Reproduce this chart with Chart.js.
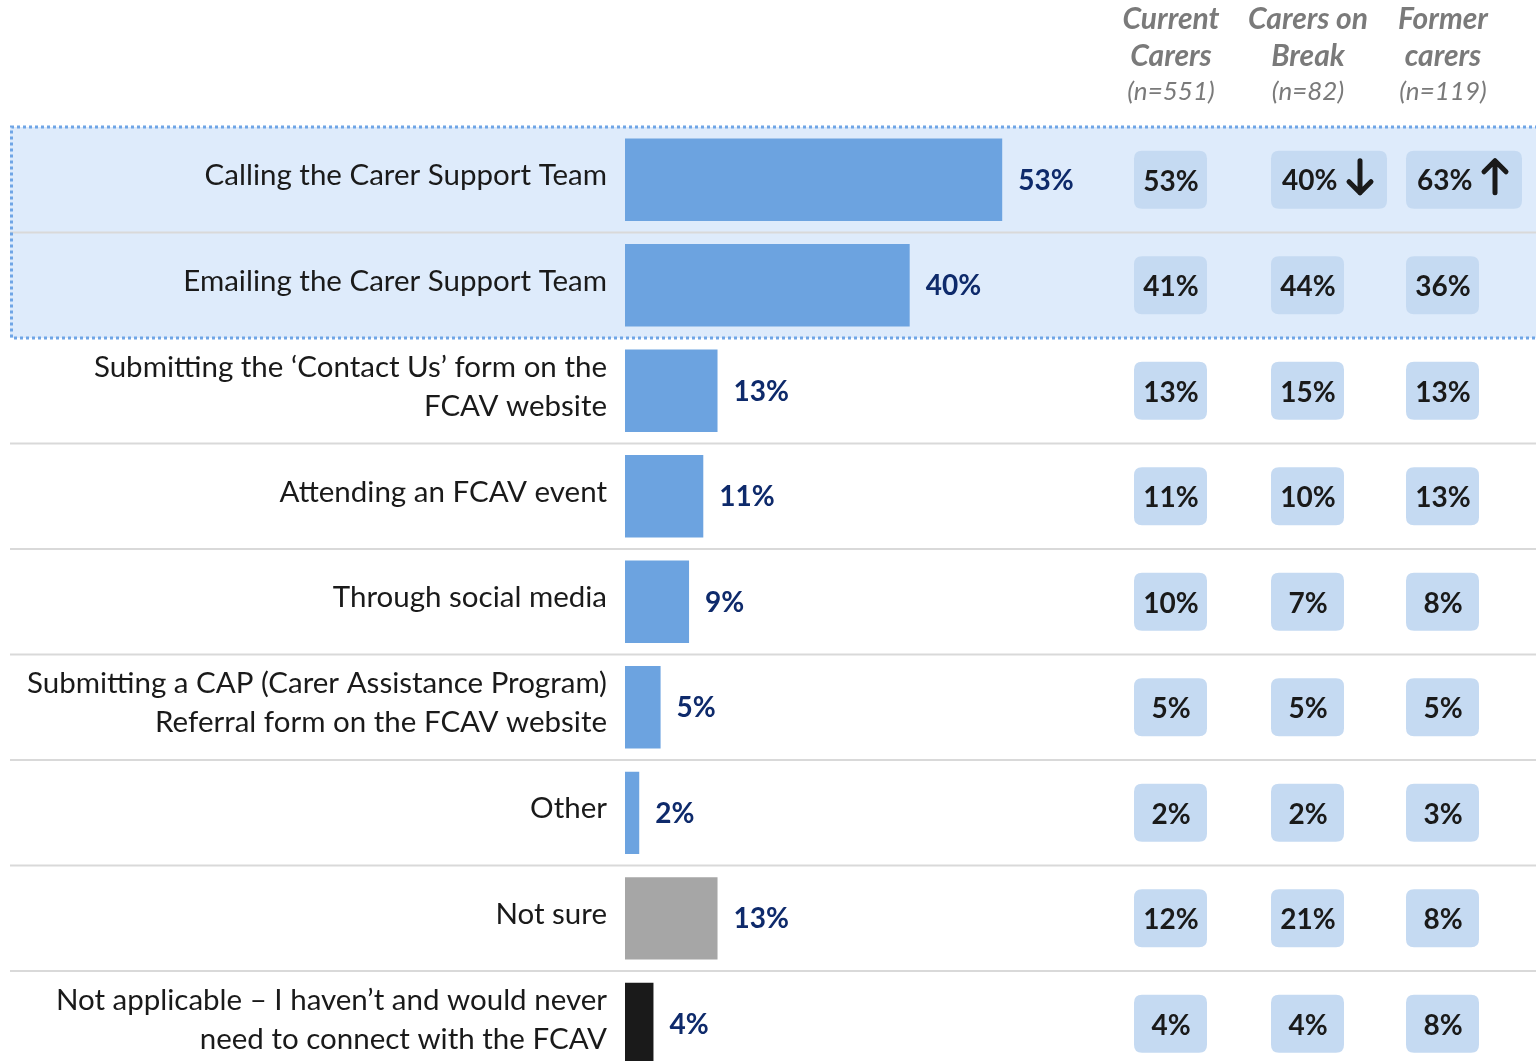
<!DOCTYPE html>
<html>
<head>
<meta charset="UTF-8">
<title>Ways of connecting with the FCAV</title>
<script src="https://cdn.jsdelivr.net/npm/chart.js"></script>
<style>
    html, body {
        margin: 0;
        padding: 0;
        background: #ffffff;
        overflow: hidden;
    }
    .chart-container {
        position: relative;
        width: 1536px;
        height: 1106px;
    }
</style>
</head>
<body>
<div class="chart-container">
    <canvas id="contactChart"></canvas>
</div>

<script>
    const categories = [
        'Calling the Carer Support Team',
        'Emailing the Carer Support Team',
        ['Submitting the \u2018Contact Us\u2019 form on the', 'FCAV website'],
        'Attending an FCAV event',
        'Through social media',
        ['Submitting a CAP (Carer Assistance Program)', 'Referral form on the FCAV website'],
        'Other',
        'Not sure',
        ['Not applicable \u2013 I haven\u2019t and would never', 'need to connect with the FCAV']
    ];
    const totalValues = [53, 40, 13, 11, 9, 5, 2, 13, 4];

    const groupHeaders = [['Current', 'Carers'], ['Carers on', 'Break'], ['Former', 'carers']];
    const groupSizes = [551, 82, 119];
    const currentCarers = [53, 41, 13, 11, 10, 5, 2, 12, 4];
    const carersOnBreak = [40, 44, 15, 10, 7, 5, 2, 21, 4];
    const formerCarers = [63, 36, 13, 13, 8, 5, 3, 8, 8];
    // significant differences vs. total
    const breakSignificance = ['down', null, null, null, null, null, null, null, null];
    const formerSignificance = ['up', null, null, null, null, null, null, null, null];

    const highlightedRows = [0, 1];

    const FONT = 'Lato, "Open Sans", sans-serif';
    const columnCentres = [1171, 1308, 1443];
    const groupValues = [currentCarers, carersOnBreak, formerCarers];
    const groupFlags = [null, breakSignificance, formerSignificance];

    function barColour(label) {
        if (label === 'Not sure') return '#a6a6a6';
        if (Array.isArray(label) && label[0].startsWith('Not applicable')) return '#1a1a1a';
        return '#6ca3e0';
    }

    function roundRect(ctx, x, y, w, h, r) {
        ctx.beginPath();
        ctx.moveTo(x + r, y);
        ctx.lineTo(x + w - r, y);
        ctx.quadraticCurveTo(x + w, y, x + w, y + r);
        ctx.lineTo(x + w, y + h - r);
        ctx.quadraticCurveTo(x + w, y + h, x + w - r, y + h);
        ctx.lineTo(x + r, y + h);
        ctx.quadraticCurveTo(x, y + h, x, y + h - r);
        ctx.lineTo(x, y + r);
        ctx.quadraticCurveTo(x, y, x + r, y);
        ctx.closePath();
    }

    function drawArrow(ctx, x, yc, dir) {
        const half = 16;
        ctx.save();
        ctx.strokeStyle = '#1a1a1a';
        ctx.lineWidth = 5;
        ctx.lineCap = 'round';
        ctx.lineJoin = 'round';
        ctx.beginPath();
        const tip = dir === 'down' ? yc + half : yc - half;
        const tail = dir === 'down' ? yc - half : yc + half;
        const wing = dir === 'down' ? -11 : 11;
        ctx.moveTo(x, tail);
        ctx.lineTo(x, tip);
        ctx.moveTo(x - 11, tip + wing);
        ctx.lineTo(x, tip);
        ctx.lineTo(x + 11, tip + wing);
        ctx.stroke();
        ctx.restore();
    }

    // row backgrounds, separators and the highlight frame, drawn before the axis labels
    const rowBackground = {
        id: 'rowBackground',
        beforeDraw(chart) {
            const ctx = chart.ctx;
            const y = chart.scales.y;
            const n = categories.length;
            const step = (y.bottom - y.top) / n;
            const left = 10, right = chart.width;

            ctx.save();
            const hTop = y.top + highlightedRows[0] * step;
            const hBottom = y.top + (highlightedRows[highlightedRows.length - 1] + 1) * step;
            ctx.fillStyle = '#deebfb';
            ctx.fillRect(left, hTop, right - left, hBottom - hTop);

            ctx.strokeStyle = '#d9d9d9';
            ctx.lineWidth = 2;
            for (let i = 1; i < n; i++) {
                const yy = y.top + i * step;
                if (Math.abs(yy - hBottom) < 1) continue;
                ctx.beginPath();
                ctx.moveTo(left, yy);
                ctx.lineTo(right, yy);
                ctx.stroke();
            }

            ctx.strokeStyle = '#6fa5e6';
            ctx.lineWidth = 3;
            ctx.setLineDash([3, 3]);
            ctx.beginPath();
            ctx.moveTo(right + 2, hTop);
            ctx.lineTo(left + 1.5, hTop);
            ctx.lineTo(left + 1.5, hBottom);
            ctx.lineTo(right + 2, hBottom);
            ctx.stroke();
            ctx.restore();
        }
    };

    // value labels, group columns and headers
    const overlay = {
        id: 'overlay',
        afterDatasetsDraw(chart) {
            const ctx = chart.ctx;
            const meta = chart.getDatasetMeta(0);
            ctx.save();

            ctx.font = 'bold 28px ' + FONT;
            ctx.fillStyle = '#0e2a6b';
            ctx.textAlign = 'left';
            ctx.textBaseline = 'middle';
            meta.data.forEach((bar, i) => {
                ctx.fillText(totalValues[i] + '%', bar.x + 16, bar.y + 1);
            });

            meta.data.forEach((bar, i) => {
                const yc = chart.scales.y.getPixelForValue(i);
                groupValues.forEach((vals, g) => {
                    const cx = columnCentres[g];
                    const flag = groupFlags[g] ? groupFlags[g][i] : null;
                    const bx = cx - 37;
                    const bw = flag ? 116 : 73;
                    ctx.fillStyle = '#c5daf2';
                    roundRect(ctx, bx, yc - 29, bw, 58, 8);
                    ctx.fill();
                    ctx.fillStyle = '#1a1a1a';
                    ctx.font = 'bold 28px ' + FONT;
                    if (flag) {
                        ctx.textAlign = 'left';
                        ctx.fillText(vals[i] + '%', bx + 11, yc + 1);
                        drawArrow(ctx, bx + 89, yc - 3, flag);
                    } else {
                        ctx.textAlign = 'center';
                        ctx.fillText(vals[i] + '%', cx, yc + 2);
                    }
                });
            });

            ctx.fillStyle = '#7a7a7a';
            ctx.textAlign = 'center';
            groupHeaders.forEach((lines, g) => {
                ctx.font = 'italic bold 30px ' + FONT;
                ctx.fillText(lines[0], columnCentres[g], 19);
                ctx.fillText(lines[1], columnCentres[g], 56);
                ctx.font = 'italic 26px ' + FONT;
                ctx.fillText('(n=' + groupSizes[g] + ')', columnCentres[g], 92);
            });
            ctx.restore();
        }
    };

    const ctx = document.getElementById('contactChart').getContext('2d');
    new Chart(ctx, {
        type: 'bar',
        data: {
            labels: categories,
            datasets: [{
                data: totalValues,
                backgroundColor: categories.map(barColour),
                borderWidth: 0,
                categoryPercentage: 1,
                barPercentage: 0.78
            }]
        },
        options: {
            indexAxis: 'y',
            responsive: true,
            maintainAspectRatio: false,
            animation: false,
            layout: {
                padding: { top: 127, bottom: 0, left: 0, right: 0 }
            },
            scales: {
                x: {
                    display: false,
                    min: 0,
                    max: 128
                },
                y: {
                    afterFit: (scale) => { scale.width = 625; },
                    grid: { display: false },
                    border: { display: false },
                    ticks: {
                        padding: 10,
                        labelOffset: -4,
                        color: '#1a1a1a',
                        font: { family: FONT, size: 29.5, lineHeight: 1.32 }
                    }
                }
            },
            plugins: {
                legend: { display: false },
                tooltip: { enabled: false }
            }
        },
        plugins: [rowBackground, overlay]
    });
</script>
</body>
</html>
